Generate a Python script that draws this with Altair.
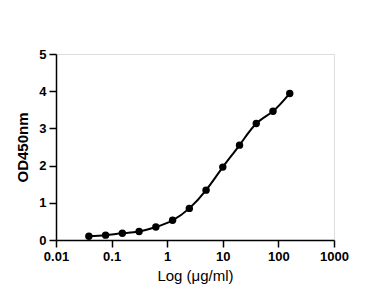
import altair as alt
import pandas as pd

conc = [0.039, 0.078, 0.156, 0.3125, 0.625, 1.25, 2.5, 5, 10, 20, 40, 80, 160]
od = [0.10, 0.13, 0.18, 0.23, 0.35, 0.53, 0.85, 1.34, 1.96, 2.55, 3.13, 3.46, 3.94]
x_ticks = [0.01, 0.1, 1, 10, 100, 1000]
y_ticks = [0, 1, 2, 3, 4, 5]

df = pd.DataFrame({"conc": conc, "od": od})

FONT = "Liberation Sans"

xenc = alt.X(
    "conc:Q",
    scale=alt.Scale(type="log", domain=[0.01, 1000], nice=False),
    axis=alt.Axis(
        title="Log (μg/ml)",
        values=x_ticks,
        format="~g",
        grid=False,
        domainColor="black",
        domainWidth=1.5,
        tickColor="black",
        tickWidth=1.5,
        tickSize=7,
        labelFont=FONT,
        labelFontSize=13,
        labelFontWeight="bold",
        labelColor="black",
        labelPadding=3,
        labelFlush=False,
        titleFont=FONT,
        titleFontSize=15,
        titleFontWeight="normal",
        titleColor="black",
        titlePadding=5,
    ),
)
yenc = alt.Y(
    "od:Q",
    scale=alt.Scale(domain=[0, 5], nice=False),
    axis=alt.Axis(
        title="OD450nm",
        values=y_ticks,
        grid=False,
        domainColor="black",
        domainWidth=1.5,
        tickColor="black",
        tickWidth=1.5,
        tickSize=7,
        labelFont=FONT,
        labelFontSize=13,
        labelFontWeight="bold",
        labelColor="black",
        labelPadding=3,
        labelFlush=False,
        titleFont=FONT,
        titleFontSize=15,
        titleFontWeight="bold",
        titleColor="black",
        titlePadding=8,
    ),
)

line = alt.Chart(df).mark_line(color="black", strokeWidth=2, interpolate="natural").encode(x=xenc, y=yenc)
pts = alt.Chart(df).mark_circle(color="black", opacity=1, size=55).encode(x=xenc, y=yenc)

chart = (
    (line + pts)
    .properties(
        width=278,
        height=186,
        autosize=alt.AutoSizeParams(type="none"),
        padding={"left": 56, "top": 54, "right": 43, "bottom": 63},
    )
    .configure_view(stroke=None)
    .configure(background="white")
)

chart.save("out.html", embed_options={"renderer": "svg", "actions": False})
